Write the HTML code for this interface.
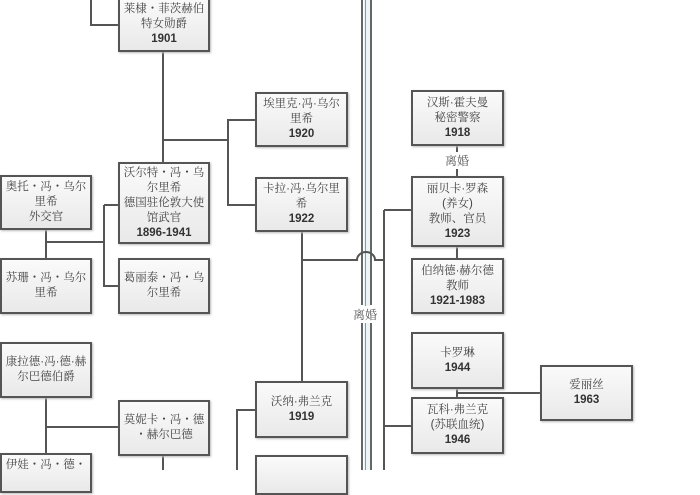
<!DOCTYPE html>
<html><head><meta charset="utf-8"><style>
html,body{margin:0;padding:0;background:#fff;width:700px;height:470px;overflow:hidden}
.b{position:absolute;box-sizing:border-box;border:2px solid #555;background:linear-gradient(#fafafa,#e9e9e9);display:flex;flex-direction:column;justify-content:center;align-items:center;text-align:center;font-family:"Liberation Sans","Noto Serif CJK SC","Noto Sans CJK SC",serif;font-size:11.5px;line-height:15px;color:#444;box-shadow:1px 1px 2px #bbb}
.b b{font-family:"Liberation Sans",sans-serif;font-size:11.5px;color:#333}
.l{position:absolute;font-family:"Noto Serif CJK SC","Noto Sans CJK SC",serif;font-size:12px;color:#555;background:#fff}
</style></head><body>
<svg width="700" height="470" style="position:absolute;left:0;top:0" fill="none" stroke="#555" stroke-width="2">
<rect x="364" y="0" width="6" height="470" fill="#eef5f6" stroke="none"/>
<path d="M362 0V305M362 322V470M371 0V305M371 322V470" stroke="#555" stroke-width="1.8"/>
<path d="M365.5 0V470" stroke="#8a9aa0" stroke-width="1"/>
<path d="M91 0V25H118"/>
<path d="M163 52V162"/>
<path d="M163 140H228V120H255M228 140V205H255"/>
<path d="M46 229V258M46 242H104M104 205V286H118M104 205H118"/>
<path d="M46 398V453M46 427H118"/>
<path d="M163 455V470"/>
<path d="M302 231V381"/>
<path d="M302 260H357 A9 8 0 0 1 375 260 H384"/>
<path d="M237 470V410H255"/>
<path d="M384 210V470M384 210H411M384 426H411"/>
<path d="M457 145V153M457 168V176M457 247V258M457 388V397M457 393H540"/>
</svg>
<div class="b" style="left:118px;top:-4px;width:92px;height:56px">莱棣・菲茨赫伯<br>特女勋爵<b>1901</b></div>
<div class="b" style="left:255px;top:92px;width:93px;height:55px">埃里克·冯·乌尔<br>里希<b>1920</b></div>
<div class="b" style="left:255px;top:177px;width:93px;height:55px">卡拉·冯·乌尔里<br>希<b>1922</b></div>
<div class="b" style="left:118px;top:162px;width:92px;height:82px">沃尔特・冯・乌<br>尔里希<br>德国驻伦敦大使<br>馆武官<b>1896-1941</b></div>
<div class="b" style="left:0px;top:175px;width:92px;height:55px">奥托・冯・乌尔<br>里希<br>外交官</div>
<div class="b" style="left:0px;top:258px;width:92px;height:56px">苏珊・冯・乌尔<br>里希</div>
<div class="b" style="left:118px;top:258px;width:92px;height:56px">葛丽泰・冯・乌<br>尔里希</div>
<div class="b" style="left:0px;top:342px;width:92px;height:56px">康拉德·冯·德·赫<br>尔巴德伯爵</div>
<div class="b" style="left:118px;top:400px;width:92px;height:56px">莫妮卡・冯・德<br>・赫尔巴德</div>
<div class="b" style="left:0px;top:453px;width:92px;height:40px;justify-content:flex-start;padding-top:3px">伊娃・冯・德・</div>
<div class="b" style="left:255px;top:381px;width:93px;height:57px">沃纳·弗兰克<b>1919</b></div>
<div class="b" style="left:255px;top:455px;width:93px;height:40px"></div>
<div class="b" style="left:411px;top:90px;width:93px;height:56px">汉斯·霍夫曼<br>秘密警察<b>1918</b></div>
<div class="l" style="left:445px;top:152px">离婚</div>
<div class="b" style="left:411px;top:176px;width:93px;height:71px">丽贝卡·罗森<br>(养女)<br>教师、官员<b>1923</b></div>
<div class="b" style="left:411px;top:258px;width:93px;height:56px">伯纳德·赫尔德<br>教师<b>1921-1983</b></div>
<div class="b" style="left:411px;top:332px;width:93px;height:57px">卡罗琳<b>1944</b></div>
<div class="b" style="left:411px;top:397px;width:93px;height:57px">瓦科·弗兰克<br>(苏联血统)<b>1946</b></div>
<div class="b" style="left:540px;top:365px;width:93px;height:56px">爱丽丝<b>1963</b></div>
<div class="l" style="left:353px;top:306px">离婚</div>
</body></html>
